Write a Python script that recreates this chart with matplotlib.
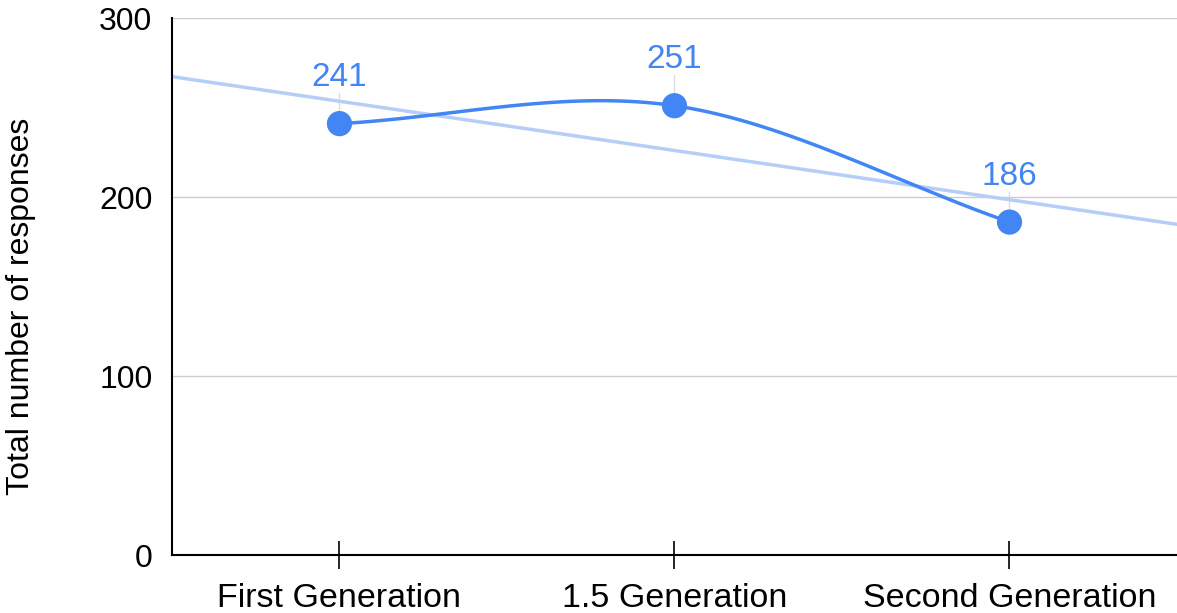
import numpy as np
import matplotlib
matplotlib.use('Agg')
from matplotlib import pyplot as plt

plt.rcParams['font.family'] = ['Liberation Sans', 'DejaVu Sans']

categories = ['First Generation', '1.5 Generation', 'Second Generation']
responses = [241, 251, 186]
yticks = [0, 100, 200, 300]

blue = '#4285F4'
trend_color = '#B5CEF7'

x = np.arange(len(categories))
y = np.array(responses, dtype=float)

# tangents for a smooth curve through the points
m = np.zeros_like(y)
m[0] = y[1] - y[0]
m[-1] = y[-1] - y[-2]
for i in range(1, len(y) - 1):
    m[i] = (y[i + 1] - y[i - 1]) / 2

xs, ys = [], []
for i in range(len(y) - 1):
    t = np.linspace(0, 1, 60)
    h00 = 2 * t**3 - 3 * t**2 + 1
    h10 = t**3 - 2 * t**2 + t
    h01 = -2 * t**3 + 3 * t**2
    h11 = t**3 - t**2
    xs.append(x[i] + t)
    ys.append(h00 * y[i] + h10 * m[i] + h01 * y[i + 1] + h11 * m[i + 1])
xs = np.concatenate(xs)
ys = np.concatenate(ys)

# linear trendline
slope, intercept = np.polyfit(x, y, 1)
xt = np.array([-0.5, 2.5])

fig = plt.figure(figsize=(11.77, 6.13), dpi=100)
ax = fig.add_axes([0.1461, 0.0946, 0.8539, 0.876])

ax.set_xlim(-0.5, 2.5)
ax.set_ylim(0, 300)
ax.set_yticks(yticks)
ax.grid(axis='y', color='#CCCCCC', linewidth=1)
ax.set_axisbelow(True)

ax.plot(xt, slope * xt + intercept, color=trend_color, linewidth=2.5, zorder=2)
ax.plot(xs, ys, color=blue, linewidth=2.5, zorder=3)
ax.scatter(x, y, s=330, color=blue, zorder=4, edgecolors='none')

for xi, yi in zip(x, y):
    ax.plot([xi, xi], [yi + 5, yi + 17], color='#DDDDDD', linewidth=1, zorder=1)
    ax.text(xi, yi + 17, str(int(yi)), ha='center', va='bottom', fontsize=24, color=blue)

ax.set_xticks(x)
ax.set_xticklabels(categories, fontsize=24.5)
ax.tick_params(axis='x', direction='inout', length=20, width=1.2, pad=10, color='black')
ax.tick_params(axis='y', length=0, labelsize=23, pad=14)

for s in ['top', 'right']:
    ax.spines[s].set_visible(False)
ax.spines['left'].set_linewidth(1.5)
ax.spines['bottom'].set_linewidth(1.5)

fig.text(0.018, 0.5, 'Total number of responses', rotation=90, ha='center', va='center', fontsize=23)

fig.savefig('out.png', dpi=100)
